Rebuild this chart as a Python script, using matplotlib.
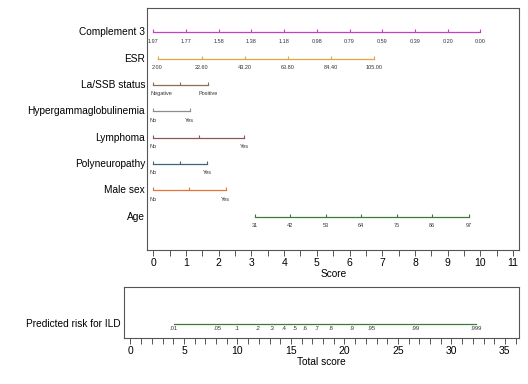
import matplotlib
matplotlib.use("Agg")
import matplotlib.pyplot as plt
from matplotlib.transforms import blended_transform_factory

plt.rcParams['font.family'] = ['Liberation Sans', 'DejaVu Sans']

# nomogram rows: name, tick positions (points), tick labels, colour
row_names = ["Complement 3", "ESR", "La/SSB status", "Hypergammaglobulinemia",
             "Lymphoma", "Polyneuropathy", "Male sex", "Age"]

c3_points = [0, 1, 2, 3, 4, 5, 6, 7, 8, 9, 10]
c3_labels = ["1.97", "1.77", "1.58", "1.38", "1.18", "0.98", "0.79", "0.59", "0.39", "0.20", "0.00"]
esr_points = [0.13, 1.48, 2.80, 4.12, 5.44, 6.76]
esr_labels = ["2.00", "22.60", "43.20", "63.80", "84.40", "105.00"]
la_points = [0, 0.83, 1.67]
la_labels = ["Negative", "", "Positive"]
hyper_points = [0, 1.11]
hyper_labels = ["No", "Yes"]
lymph_points = [0, 1.39, 2.77]
lymph_labels = ["No", "", "Yes"]
poly_points = [0, 0.82, 1.64]
poly_labels = ["No", "", "Yes"]
male_points = [0, 1.10, 2.21]
male_labels = ["No", "", "Yes"]
age_points = [3.10, 4.19, 5.28, 6.36, 7.44, 8.53, 9.64]
age_labels = ["31", "42", "53", "64", "75", "86", "97"]

row_colors = ["#c23fc6", "#e3a641", "#8a6e52", "#8c8c8c",
              "#8a5858", "#3d6770", "#e0743a", "#3b7a3b"]

risk_points = [4.04, 8.10, 9.93, 11.92, 13.25, 14.33, 15.33, 16.33, 17.41,
               18.74, 20.73, 22.57, 26.63, 32.30]
risk_labels = [".01", ".05", ".1", ".2", ".3", ".4", ".5", ".6", ".7", ".8",
               ".9", ".95", ".99", ".999"]

rows = [(c3_points, c3_labels), (esr_points, esr_labels), (la_points, la_labels),
        (hyper_points, hyper_labels), (lymph_points, lymph_labels),
        (poly_points, poly_labels), (male_points, male_labels), (age_points, age_labels)]

spine_col = "#555555"
fig = plt.figure(figsize=(5.28, 3.84), dpi=100)

# upper panel: points per predictor
ax = fig.add_axes([0.279, 0.349, 0.7045, 0.629])
ax.set_xlim(-0.183, 11.19)
ax.set_ylim(8.26, -0.91)
trans = blended_transform_factory(ax.transAxes, ax.transData)
for i, (pts, labs) in enumerate(rows):
    col = row_colors[i]
    ax.plot([pts[0], pts[-1]], [i, i], color=col, lw=0.9)
    ax.vlines(pts, i - 0.12, i, color=col, lw=0.8)
    for p, lab in zip(pts, labs):
        if lab == "Negative":
            ax.text(p - 0.08, i + 0.33, lab, fontsize=4, ha='left', va='center', color="#333333")
        else:
            ax.text(p, i + 0.33, lab, fontsize=4, ha='center', va='center', color="#333333")
    ax.text(-0.006, i, row_names[i], transform=trans, ha='right', va='center', fontsize=7.3)

ax.set_xticks(range(0, 12))
ax.set_xticks([x + 0.5 for x in range(0, 11)], minor=True)
ax.set_yticks([])
ax.set_xlabel("Score", fontsize=7.3, labelpad=1)
ax.tick_params(axis='x', labelsize=7.5, length=4, width=0.7, color=spine_col, pad=1.5)
ax.tick_params(axis='x', which='minor', length=4, width=0.7, color=spine_col)
for s in ax.spines.values():
    s.set_color(spine_col)
    s.set_linewidth(0.8)

# lower panel: total score to predicted risk
ax2 = fig.add_axes([0.2354, 0.119, 0.748, 0.1328])
ax2.set_xlim(-0.58, 36.34)
ax2.set_ylim(0, 1)
ax2.plot([risk_points[0], risk_points[-1]], [0.28, 0.28], color="#3b7a3b", lw=0.9)
for p, lab in zip(risk_points, risk_labels):
    ax2.text(p, 0.19, lab, fontsize=4.2, ha='center', va='center', color="#333333")
ax2.text(-0.01, 0.28, "Predicted risk for ILD", transform=ax2.transAxes,
         ha='right', va='center', fontsize=7.3)
ax2.set_xticks(range(0, 36, 5))
ax2.set_xticks(range(0, 37), minor=True)
ax2.set_yticks([])
ax2.set_xlabel("Total score", fontsize=7.3, labelpad=1)
ax2.tick_params(axis='x', labelsize=7.5, length=4, width=0.7, color=spine_col, pad=1.5)
ax2.tick_params(axis='x', which='minor', length=4, width=0.7, color=spine_col)
for s in ax2.spines.values():
    s.set_color(spine_col)
    s.set_linewidth(0.8)

fig.savefig("out.png", dpi=100)
